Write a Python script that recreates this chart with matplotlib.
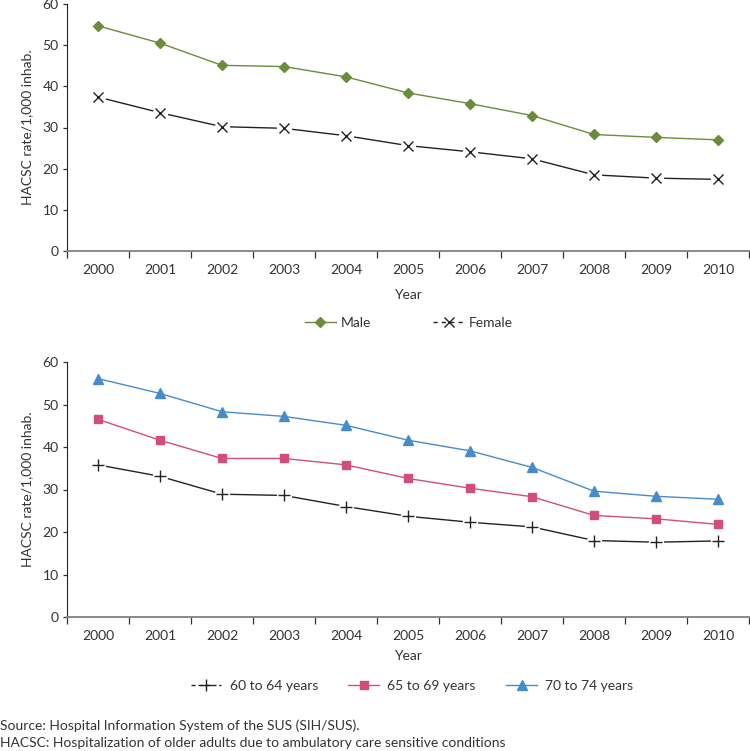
import matplotlib
matplotlib.use("Agg")
import matplotlib.pyplot as plt
from matplotlib.lines import Line2D
import numpy as np

plt.rcParams['font.family'] = ['Lato', 'DejaVu Sans']
plt.rcParams['font.size'] = 10

years = ['2000', '2001', '2002', '2003', '2004', '2005',
         '2006', '2007', '2008', '2009', '2010']

# top panel: by sex
male = [54.7, 50.5, 45.1, 44.8, 42.3, 38.4, 35.8, 32.9, 28.3, 27.6, 27.0]
female = [37.4, 33.6, 30.2, 29.8, 28.0, 25.6, 24.1, 22.4, 18.5, 17.7, 17.4]

# bottom panel: by age group
age_60_64 = [35.8, 33.1, 28.9, 28.6, 26.0, 23.7, 22.3, 21.2, 18.0, 17.6, 17.9]
age_65_69 = [46.5, 41.6, 37.3, 37.3, 35.8, 32.6, 30.3, 28.3, 23.9, 23.1, 21.8]
age_70_74 = [56.1, 52.6, 48.3, 47.2, 45.1, 41.6, 39.1, 35.2, 29.6, 28.4, 27.7]

GREEN = '#6b8c3a'
PINK = '#d24d7a'
BLUE = '#468ccb'
TXT = '#333333'
W, H = 750, 751

fig = plt.figure(figsize=(7.5, 7.51), dpi=100)


def make_axes(top_px, bottom_px, xlabel_pad):
    left, right = 67, 749
    ax = fig.add_axes([left / W, 1 - bottom_px / H, (right - left) / W,
                       (bottom_px - top_px) / H])
    x = np.arange(len(years))
    ax.set_xlim(-0.5, len(years) - 0.5)
    ax.set_ylim(0, 60)
    ax.set_yticks(range(0, 61, 10))
    ax.set_xticks(np.arange(-0.5, len(years)), minor=False)
    ax.set_xticklabels([])
    ax.set_xticks(x, minor=True)
    ax.set_xticklabels(years, minor=True)
    ax.tick_params(axis='x', which='major', length=5, width=0.9,
                   color='#333333', direction='out')
    ax.tick_params(axis='x', which='minor', length=0, pad=9,
                   labelsize=10, labelcolor=TXT)
    ax.tick_params(axis='y', length=3, width=0.9, color='#333333',
                   labelsize=10, labelcolor=TXT, pad=3)
    for s in ['top', 'right']:
        ax.spines[s].set_visible(False)
    ax.spines['left'].set_color('#222222')
    ax.spines['bottom'].set_color('#888888')
    ax.spines['bottom'].set_linewidth(1.4)
    ax.set_ylabel('HACSC rate/1,000 inhab.', fontsize=10, color=TXT,
                  labelpad=7)
    ax.set_xlabel('Year', fontsize=10, color=TXT, labelpad=xlabel_pad)
    return ax, x


def gapped(ax, x, y, marker, ms):
    # white underlay gives the line a small gap around each marker
    ax.plot(x, y, color='#222222', lw=1.0, zorder=2)
    ax.plot(x, y, ls='none', marker='o', ms=11, mfc='white', mec='none',
            zorder=3)
    ax.plot(x, y, ls='none', marker=marker, ms=ms, mec='#222222',
            mew=1.0, zorder=4)


ax1, x = make_axes(4, 251, 10)
ax1.plot(x, male, color=GREEN, lw=1.0, marker='D', ms=5, mfc=GREEN,
         mec=GREEN, zorder=3)
gapped(ax1, x, female, 'x', 7)

h_top = [
    Line2D([], [], color=GREEN, lw=1.0, marker='D', ms=5, mfc=GREEN, mec=GREEN),
    Line2D([], [], color='#222222', lw=1.0, ls=(0, (3, 3)), marker='x', ms=7),
]
fig.legend(h_top, ['Male', 'Female'], loc='center',
           bbox_to_anchor=(409 / W, 1 - 323 / H), ncol=2, frameon=False,
           fontsize=10, handlelength=2.2, handletextpad=0.35,
           columnspacing=4.5, labelcolor=TXT)

ax2, x = make_axes(362, 617, 6)
gapped(ax2, x, age_60_64, '+', 9)
ax2.plot(x, age_65_69, color=PINK, lw=1.0, marker='s', ms=6, mfc=PINK,
         mec=PINK, zorder=3)
ax2.plot(x, age_70_74, color=BLUE, lw=1.0, marker='^', ms=7, mfc=BLUE,
         mec=BLUE, zorder=3)

h_bot = [
    Line2D([], [], color='#222222', lw=1.0, ls=(0, (3, 2)), marker='+', ms=9),
    Line2D([], [], color=PINK, lw=1.0, marker='s', ms=6, mfc=PINK, mec=PINK),
    Line2D([], [], color=BLUE, lw=1.0, marker='^', ms=7, mfc=BLUE, mec=BLUE),
]
fig.legend(h_bot, ['60 to 64 years', '65 to 69 years', '70 to 74 years'],
           loc='center', bbox_to_anchor=(412 / W, 1 - 686 / H), ncol=3,
           frameon=False, fontsize=10, handlelength=2.2, handletextpad=0.6,
           columnspacing=2.2, labelcolor=TXT)

fig.text(0, 1 - 726 / H, 'Source: Hospital Information System of the SUS (SIH/SUS).',
         fontsize=10, color=TXT, va='center', ha='left')
fig.text(0, 1 - 743 / H,
         'HACSC: Hospitalization of older adults due to ambulatory care sensitive conditions',
         fontsize=10, color=TXT, va='center', ha='left')

fig.savefig('out.png', dpi=100)
